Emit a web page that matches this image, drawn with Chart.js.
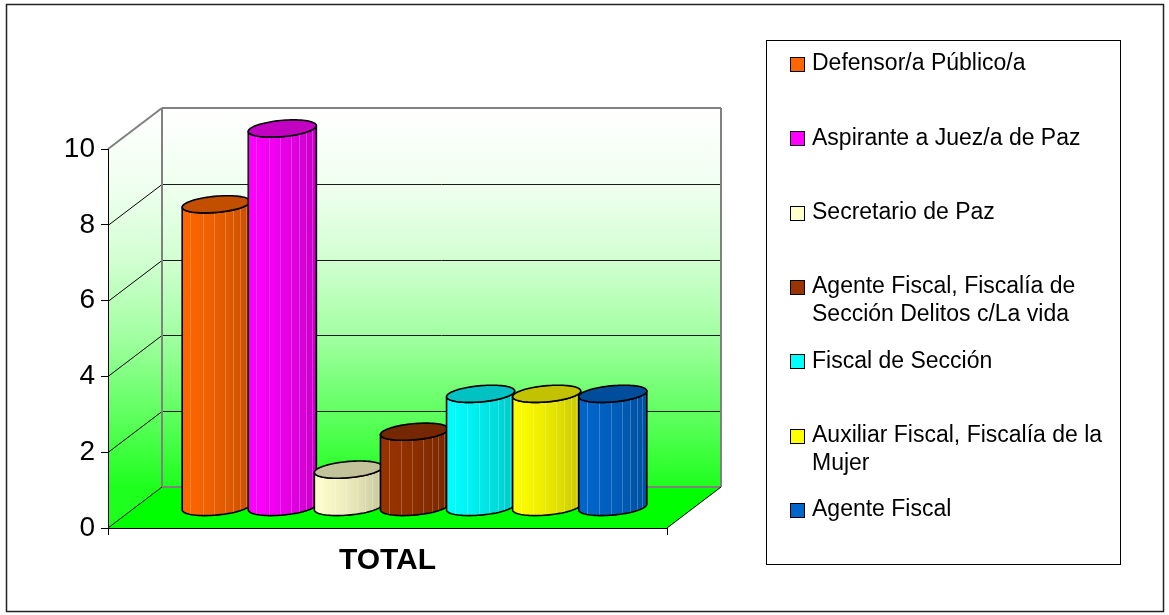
<!DOCTYPE html>
<html>
<head>
<meta charset="utf-8">
<title>TOTAL</title>
<script src="https://cdn.jsdelivr.net/npm/chart.js@4.4.1/dist/chart.umd.min.js"></script>
<style>
  html, body { margin: 0; padding: 0; background: #fff; }
  #grafico { display: block; }
</style>
</head>
<body>
<canvas id="grafico" width="1169" height="615"></canvas>
<script>
// datos del gráfico
const categorias = ['TOTAL'];
const cargos = [
    'Defensor/a Público/a',
    'Aspirante a Juez/a de Paz',
    'Secretario de Paz',
    'Agente Fiscal, Fiscalía de Sección Delitos c/La vida',
    'Fiscal de Sección',
    'Auxiliar Fiscal, Fiscalía de la Mujer',
    'Agente Fiscal'
];
const valores = [8, 10, 1, 2, 3, 3, 3];
const colores = ['#FF6600', '#FF00FF', '#FFFFCC', '#993300', '#00FFFF', '#FFFF00', '#0066CC'];
const ticksY = [0, 2, 4, 6, 8, 10];

const FUENTE = "'Liberation Sans', Arial, sans-serif";
const PROF_X = 54, PROF_Y = -41;   // desplazamiento de la pared del fondo
const CILINDRO_PROF = 0.42;        // diametro del cilindro en profundidad

function oscurecer(hex, f) {
    const n = parseInt(hex.slice(1), 16);
    const r = Math.round(((n >> 16) & 255) * f);
    const g = Math.round(((n >> 8) & 255) * f);
    const b = Math.round((n & 255) * f);
    return `rgb(${r},${g},${b})`;
}

function gradienteMuro(ctx, y0, y1) {
    const g = ctx.createLinearGradient(0, y0, 0, y1);
    g.addColorStop(0, '#FFFFFF');
    g.addColorStop(0.2, '#F0FFF0');
    g.addColorStop(0.4, '#D2FFD2');
    g.addColorStop(0.6, '#A2FFA2');
    g.addColorStop(0.8, '#62FF62');
    g.addColorStop(1, '#1EFF1E');
    return g;
}

function linea(ctx, x1, y1, x2, y2, color, ancho) {
    ctx.beginPath();
    ctx.moveTo(x1, y1);
    ctx.lineTo(x2, y2);
    ctx.strokeStyle = color;
    ctx.lineWidth = ancho;
    ctx.stroke();
}

function dibujarCilindro(ctx, cx, yTop, yBot, mitad, color) {
    const sx = CILINDRO_PROF / 2 * PROF_X, sy = CILINDRO_PROF / 2 * PROF_Y;
    const a = Math.sqrt(Math.max(mitad * mitad - sx * sx, 4));
    const tr = Math.atan2(sx, a);
    const punto = (cy, t) => [cx + a * Math.cos(t) + sx * Math.sin(t), cy + sy * Math.sin(t)];
    const N = 40;

    // cuerpo: arco frontal inferior, lado izquierdo, arco frontal superior
    const trazarCuerpo = () => {
        ctx.beginPath();
        for (let i = 0; i <= N; i++) {
            const p = punto(yBot, tr - Math.PI * i / N);
            i === 0 ? ctx.moveTo(p[0], p[1]) : ctx.lineTo(p[0], p[1]);
        }
        for (let i = 0; i <= N; i++) {
            const p = punto(yTop, tr - Math.PI + Math.PI * i / N);
            ctx.lineTo(p[0], p[1]);
        }
        ctx.closePath();
    };

    trazarCuerpo();
    const g = ctx.createLinearGradient(cx - mitad, 0, cx + mitad, 0);
    g.addColorStop(0, color);
    g.addColorStop(0.35, oscurecer(color, 0.95));
    g.addColorStop(0.7, oscurecer(color, 0.87));
    g.addColorStop(1, oscurecer(color, 0.78));
    ctx.fillStyle = g;
    ctx.fill();

    // facetas verticales
    ctx.save();
    ctx.clip();
    [0.12, 0.3, 0.47, 0.63, 0.75, 0.85, 0.93].forEach(f => {
        const x = Math.round(cx - mitad + 2 * mitad * f) + 0.5;
        linea(ctx, x, yTop - 20, x, yBot + 20, 'rgba(255,255,255,0.22)', 1);
    });
    ctx.restore();

    trazarCuerpo();
    ctx.strokeStyle = '#000';
    ctx.lineWidth = 1.6;
    ctx.lineJoin = 'round';
    ctx.stroke();

    // tapa superior
    ctx.beginPath();
    for (let i = 0; i <= N * 2; i++) {
        const p = punto(yTop, Math.PI * i / N);
        i === 0 ? ctx.moveTo(p[0], p[1]) : ctx.lineTo(p[0], p[1]);
    }
    ctx.closePath();
    ctx.fillStyle = oscurecer(color, 0.76);
    ctx.fill();
    ctx.stroke();
}

function partirTexto(ctx, texto, maxAncho) {
    const palabras = texto.split(' ');
    const lineas = [];
    let actual = '';
    palabras.forEach(p => {
        const prueba = actual ? actual + ' ' + p : p;
        if (actual && ctx.measureText(prueba).width > maxAncho) {
            lineas.push(actual);
            actual = p;
        } else {
            actual = prueba;
        }
    });
    if (actual) lineas.push(actual);
    return lineas;
}

const fondo3D = {
    id: 'fondo3D',
    beforeDraw(chart) {
        const { ctx, chartArea: ar, scales: { y } } = chart;
        const arriba = y.getPixelForValue(ticksY[ticksY.length - 1]);
        const abajo = y.getPixelForValue(0);
        const L = ar.left, R = ar.right;
        ctx.save();

        // pared izquierda
        ctx.beginPath();
        ctx.moveTo(L, arriba);
        ctx.lineTo(L + PROF_X, arriba + PROF_Y);
        ctx.lineTo(L + PROF_X, abajo + PROF_Y);
        ctx.lineTo(L, abajo);
        ctx.closePath();
        ctx.fillStyle = gradienteMuro(ctx, arriba + PROF_Y, abajo + PROF_Y);
        ctx.fill();

        // pared del fondo
        ctx.fillStyle = gradienteMuro(ctx, arriba + PROF_Y, abajo + PROF_Y);
        ctx.fillRect(L + PROF_X, arriba + PROF_Y, R - L, abajo - arriba);

        // piso
        ctx.beginPath();
        ctx.moveTo(L, abajo);
        ctx.lineTo(R, abajo);
        ctx.lineTo(R + PROF_X, abajo + PROF_Y);
        ctx.lineTo(L + PROF_X, abajo + PROF_Y);
        ctx.closePath();
        ctx.fillStyle = '#00FF00';
        ctx.fill();

        // lineas de division
        ticksY.slice(1, -1).forEach(v => {
            const py = Math.round(y.getPixelForValue(v)) + 0.5;
            linea(ctx, L, py, L + PROF_X, py + PROF_Y, '#000', 1);
            linea(ctx, L + PROF_X, py + PROF_Y, R + PROF_X, py + PROF_Y, '#1a1a1a', 1);
        });

        // bordes de las paredes
        const gris = '#808080';
        linea(ctx, L, arriba, L + PROF_X, arriba + PROF_Y, gris, 2);
        linea(ctx, L + PROF_X, arriba + PROF_Y, R + PROF_X, arriba + PROF_Y, gris, 2);
        linea(ctx, L + PROF_X, arriba + PROF_Y, L + PROF_X, abajo + PROF_Y, gris, 2);
        linea(ctx, R + PROF_X, arriba + PROF_Y, R + PROF_X, abajo + PROF_Y, gris, 2);
        linea(ctx, L + PROF_X, abajo + PROF_Y, R + PROF_X, abajo + PROF_Y, gris, 2);
        linea(ctx, L, abajo, L + PROF_X, abajo + PROF_Y, '#000', 1);
        linea(ctx, R, abajo, R + PROF_X, abajo + PROF_Y, '#000', 1);
        ctx.restore();
    },
    beforeDatasetsDraw(chart) {
        const ctx = chart.ctx;
        ctx.save();
        chart.data.datasets.forEach((ds, i) => {
            const barra = chart.getDatasetMeta(i).data[0];
            const cx = barra.x + PROF_X / 2;
            const yTop = barra.y + PROF_Y / 2;
            const yBot = barra.base + PROF_Y / 2;
            dibujarCilindro(ctx, cx, yTop, yBot, barra.width / 2 + 1, ds.backgroundColor);
        });
        ctx.restore();
        return false;
    },
    afterDraw(chart) {
        const ctx = chart.ctx;
        ctx.save();

        // leyenda
        ctx.strokeStyle = '#000';
        ctx.lineWidth = 1;
        ctx.strokeRect(766.5, 40.5, 354, 524);
        ctx.font = `23px ${FUENTE}`;
        ctx.textBaseline = 'middle';
        ctx.textAlign = 'left';
        chart.data.datasets.forEach((ds, i) => {
            const y0 = 64 + i * 74.3;
            ctx.fillStyle = ds.backgroundColor;
            ctx.fillRect(790.5, Math.round(y0 - 7) + 0.5, 14, 14);
            ctx.strokeRect(790.5, Math.round(y0 - 7) + 0.5, 14, 14);
            ctx.fillStyle = '#000';
            partirTexto(ctx, ds.label, 300).forEach((t, k) => {
                ctx.fillText(t, 812, y0 + k * 28);
            });
        });

        // marco exterior
        ctx.strokeStyle = '#222';
        ctx.lineWidth = 1.5;
        ctx.strokeRect(6.5, 4.5, 1157, 607);
        ctx.restore();
    }
};

new Chart(document.getElementById('grafico'), {
    type: 'bar',
    data: {
        labels: categorias,
        datasets: cargos.map((nombre, i) => ({
            label: nombre,
            data: [valores[i]],
            backgroundColor: colores[i]
        }))
    },
    options: {
        responsive: false,
        animation: false,
        devicePixelRatio: 1,
        layout: { padding: { top: 149, right: 502, left: 0, bottom: 0 } },
        categoryPercentage: 0.8276,
        barPercentage: 1,
        plugins: { legend: { display: false }, tooltip: { enabled: false } },
        scales: {
            x: {
                grid: { drawOnChartArea: false, tickLength: 7, color: '#000' },
                border: { color: '#000', width: 1 },
                ticks: { color: '#000', padding: 8, font: { family: FUENTE, size: 30, weight: 'bold' } },
                afterFit(s) { s.height = 87; }
            },
            y: {
                min: 0,
                max: 10,
                grid: { drawOnChartArea: false, tickLength: 7, color: '#000' },
                border: { color: '#000', width: 1 },
                ticks: {
                    stepSize: 2,
                    color: '#000',
                    padding: 6,
                    font: { family: FUENTE, size: 28 },
                    callback: v => ticksY.includes(v) ? String(v) : ''
                },
                afterFit(s) { s.width = 108; }
            }
        }
    },
    plugins: [fondo3D]
});
</script>
</body>
</html>
